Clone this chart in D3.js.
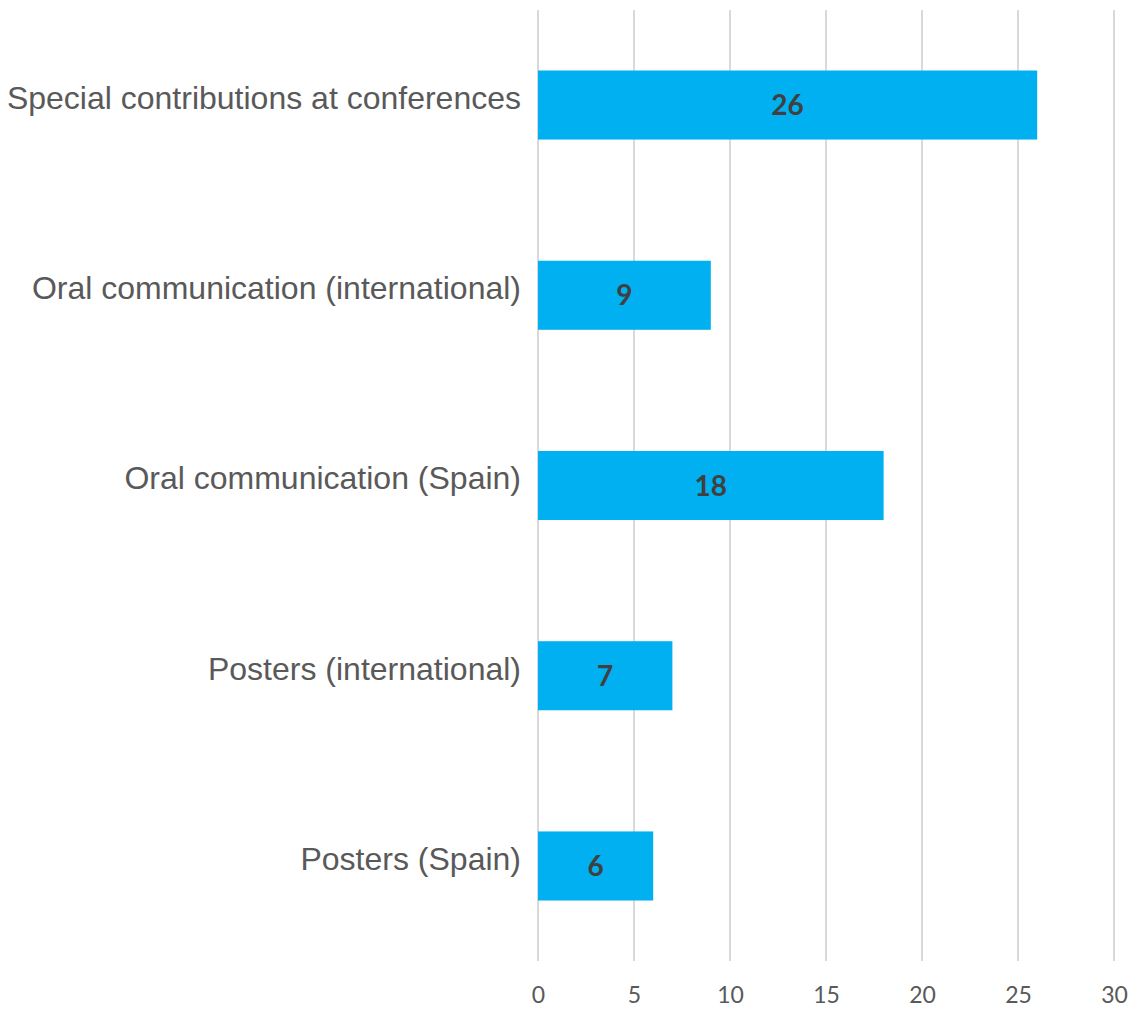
<!DOCTYPE html>
<html>
<head>
<meta charset="utf-8">
<script src="https://cdn.jsdelivr.net/npm/d3@7.9.0/dist/d3.min.js"></script>
<style>
  body { margin: 0; background: #fff; }
  svg { display: block; }
</style>
</head>
<body>
<div id="chart"></div>
<script>
// chart data
const categories = [
  "Special contributions at conferences",
  "Oral communication (international)",
  "Oral communication (Spain)",
  "Posters (international)",
  "Posters (Spain)"
];
const values = [26, 9, 18, 7, 6];
const xTicks = [0, 5, 10, 15, 20, 25, 30];

const W = 1136, H = 1010;
const margin = {top: 10, right: 22, bottom: 49, left: 538};
const width = W - margin.left - margin.right,
      height = H - margin.top - margin.bottom;

const svg = d3.select("#chart")
  .append("svg")
  .attr("width", W)
  .attr("height", H)
  .append("g")
  .attr("transform", `translate(${margin.left},${margin.top})`);

const x = d3.scaleLinear()
  .domain([0, 30])
  .range([0, width]);

const y = d3.scaleBand()
  .domain(categories)
  .range([0, height])
  .paddingInner(0.637)
  .paddingOuter(0.318);

// vertical gridlines
svg.append("g")
  .selectAll("line")
  .data(xTicks)
  .join("line")
  .attr("x1", d => x(d))
  .attr("x2", d => x(d))
  .attr("y1", 0)
  .attr("y2", height)
  .attr("stroke", "#d9d9d9")
  .attr("stroke-width", 2);

// bars
svg.append("g")
  .selectAll("rect")
  .data(values)
  .join("rect")
  .attr("x", x(0))
  .attr("y", (d, i) => y(categories[i]))
  .attr("width", d => x(d) - x(0))
  .attr("height", y.bandwidth())
  .attr("fill", "#00b0f0");

// data labels
svg.append("g")
  .selectAll("text")
  .data(values)
  .join("text")
  .attr("x", d => (x(d) + x(0)) / 2)
  .attr("y", (d, i) => y(categories[i]) + y.bandwidth() / 2)
  .attr("dy", "0.36em")
  .attr("text-anchor", "middle")
  .attr("font-family", "Lato, 'Open Sans', sans-serif")
  .attr("font-weight", "bold")
  .attr("font-size", 28)
  .attr("fill", "#404040")
  .text(d => d);

// category labels
const yAxis = svg.append("g")
  .call(d3.axisLeft(y).tickSize(0).tickPadding(17));
yAxis.select(".domain").remove();
yAxis.selectAll("text")
  .attr("dy", "0.12em")
  .attr("font-family", "'Liberation Sans', Arial, sans-serif")
  .attr("font-size", 32)
  .attr("fill", "#595959");

// x axis tick labels
const xAxis = svg.append("g")
  .attr("transform", `translate(0,${height})`)
  .call(d3.axisBottom(x).tickValues(xTicks).tickSize(0).tickPadding(26));
xAxis.select(".domain").remove();
xAxis.selectAll("text")
  .attr("font-family", "Lato, 'Open Sans', sans-serif")
  .attr("font-size", 23)
  .attr("fill", "#595959");
</script>
</body>
</html>
